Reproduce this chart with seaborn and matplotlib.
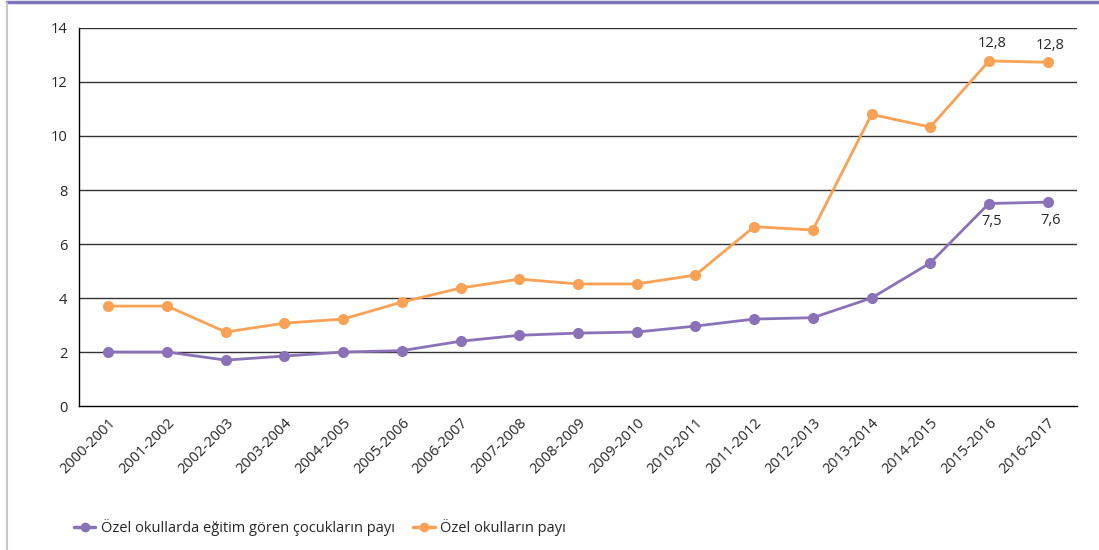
import numpy as np
import pandas as pd
import matplotlib.pyplot as plt
import seaborn as sns
from matplotlib.lines import Line2D
from matplotlib.ticker import FixedLocator

# ========== DATA ==========
years = ['2000-2001', '2001-2002', '2002-2003', '2003-2004', '2004-2005',
         '2005-2006', '2006-2007', '2007-2008', '2008-2009', '2009-2010',
         '2010-2011', '2011-2012', '2012-2013', '2013-2014', '2014-2015',
         '2015-2016', '2016-2017']
children_share = [2.0, 2.0, 1.7, 1.85, 2.0, 2.05, 2.4, 2.62, 2.7, 2.74,
                  2.96, 3.22, 3.27, 4.0, 5.3, 7.5, 7.55]
school_share = [3.7, 3.7, 2.74, 3.07, 3.22, 3.85, 4.37, 4.7, 4.52, 4.52,
                4.85, 6.64, 6.52, 10.8, 10.33, 12.78, 12.73]
series_names = ['Özel okullarda eğitim gören çocukların payı', 'Özel okulların payı']
colors = ['#8b72b8', '#f9a155']

# printed value labels (last two years)
label_idx = [15, 16]
school_labels = ['12,8', '12,8']
children_labels = ['7,5', '7,6']

df = pd.DataFrame({
    'year': years * 2,
    'value': children_share + school_share,
    'series': [series_names[0]] * len(years) + [series_names[1]] * len(years),
})

sns.set_style('white')
plt.rcParams['font.family'] = ['Open Sans', 'DejaVu Sans']

fig = plt.figure(figsize=(10.99, 5.5), dpi=100)
ax = fig.add_axes([0.0719, 0.2618, 0.9081, 0.6873])

sns.lineplot(data=df, x='year', y='value', hue='series', palette=colors,
             marker='o', markersize=8, markeredgewidth=0, linewidth=2,
             sort=False, ax=ax, legend=False)

# grid lines
ax.set_ylim(0, 14)
ax.set_yticks(range(0, 15, 2))
for y in range(2, 15, 2):
    ax.axhline(y, color='#333333', linewidth=1, zorder=0)

ax.set_xlim(-0.5, len(years) - 0.5)
ax.set_xticks(range(len(years)))
ax.set_xticklabels(years, rotation=45, ha='right', rotation_mode='anchor', fontsize=10.5)
ax.xaxis.set_minor_locator(FixedLocator(np.arange(-0.5, len(years), 1.0)))
ax.tick_params(axis='x', which='major', length=0, pad=7)
ax.tick_params(axis='x', which='minor', length=6, width=1, color='black', direction='out')
ax.tick_params(axis='y', length=5, width=1, color='black', direction='out', labelsize=10.5)
ax.set_xlabel('')
ax.set_ylabel('')

for side in ['top', 'right']:
    ax.spines[side].set_visible(False)
for side in ['left', 'bottom']:
    ax.spines[side].set_color('black')
    ax.spines[side].set_linewidth(1)

# value labels
for k, i in enumerate(label_idx):
    ax.text(i + 0.05, school_share[i] + 0.35, school_labels[k],
            ha='center', va='bottom', fontsize=10.5)
    ax.text(i + 0.05, children_share[i] - 0.4, children_labels[k],
            ha='center', va='top', fontsize=10.5)

# legend
handles = [Line2D([0], [0], color=c, marker='o', markersize=7, linewidth=2.5,
                  markeredgewidth=0) for c in colors]
fig.legend(handles, series_names, loc='center left', bbox_to_anchor=(0.055, 0.04),
           ncol=2, frameon=False, fontsize=10.5, handlelength=1.5, columnspacing=1.2,
           handletextpad=0.4)

# frame decorations
fig.add_artist(Line2D([0.006, 1.0], [0.997, 0.997], color='#7b74b8', linewidth=2.5))
fig.add_artist(Line2D([0.0065, 0.0065], [0.0, 0.995], color='#c8c8c8', linewidth=1.5))

plt.savefig('out.png', dpi=100)
plt.close()
